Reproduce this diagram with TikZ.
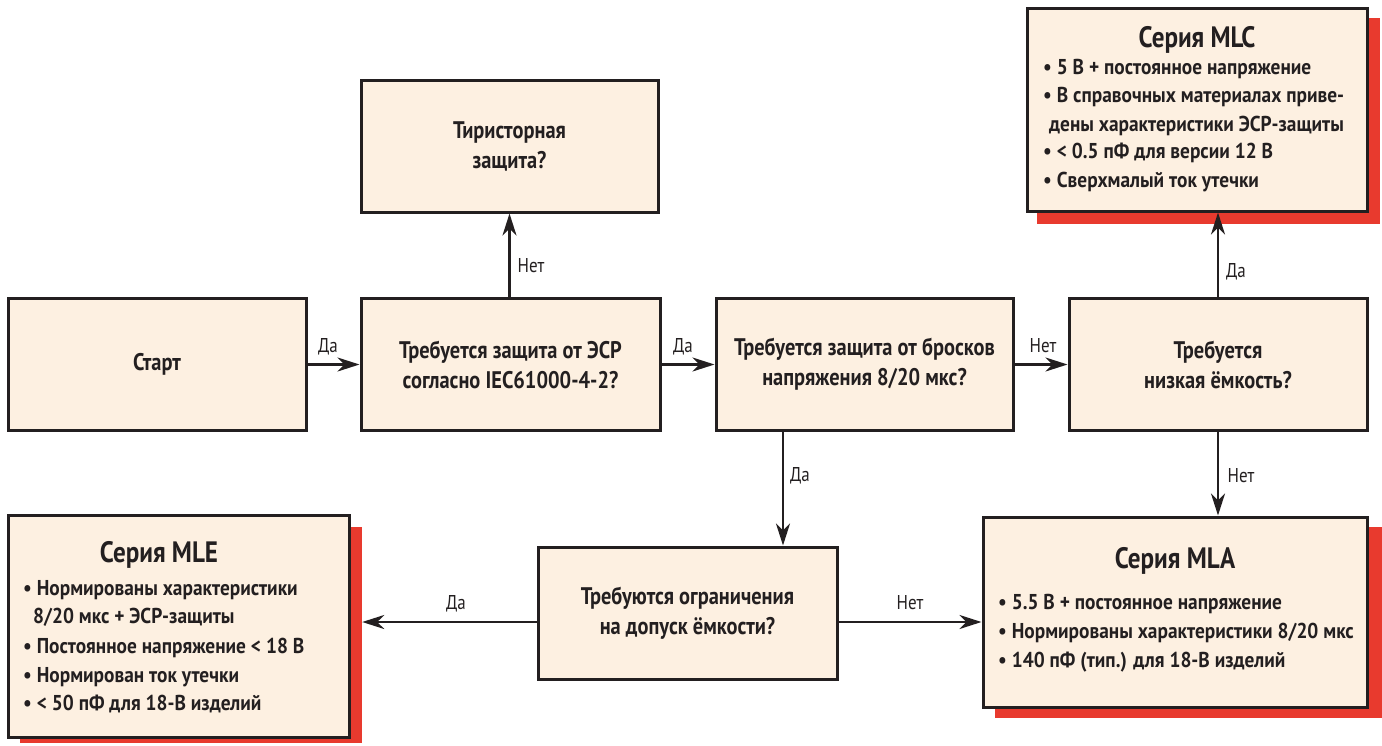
\documentclass[tikz,border=0pt]{standalone}
\usepackage{fontspec}
\setmainfont{PT Sans}[FakeStretch=0.85]
\newfontfamily\itmfont{PT Sans}[FakeStretch=0.9]
\usetikzlibrary{arrows.meta}
\definecolor{boxfill}{HTML}{FDF0E1}
\definecolor{boxline}{HTML}{231F20}
\definecolor{shadowred}{HTML}{E83A2E}
\tikzset{
  box/.style={draw=boxline, line width=3pt, fill=boxfill, align=center, inner sep=0pt, text=boxline,
    font=\bfseries\fontsize{24}{30}\selectfont},
  redbox/.style={fill=shadowred, draw=none, inner sep=0pt},
  arr/.style={draw=boxline, line width=2.5pt, -{Stealth[length=22pt,width=14pt,inset=7pt]}},
  lbl/.style={font=\fontsize{20}{24}\selectfont, text=boxline, inner sep=0pt},
  ttl/.style={font=\bfseries\fontsize{29.5}{30}\selectfont, text=boxline, anchor=base, inner sep=0pt},
  itm/.style={font=\itmfont\bfseries\fontsize{21.5}{24}\selectfont, text=boxline, anchor=base west, inner sep=0pt},
}
\begin{document}
\begin{tikzpicture}[x=1pt,y=-1pt]
\useasboundingbox (0,0) rectangle (1382,745);
% shadows
\node[redbox, minimum width=343pt, minimum height=206pt] (mlcshadow) at (1208.5,121) {};
\node[redbox, minimum width=342pt, minimum height=216pt] (mleshadow) at (191,635) {};
\node[redbox, minimum width=387pt, minimum height=191pt] (mlashadow) at (1188.5,622.5) {};
% boxes
\node[box, minimum width=298pt, minimum height=132pt] (start) at (157,364.5) {Старт};
\node[box, minimum width=299pt, minimum height=132pt] (esd) at (510.5,364.5) {Требуется защита от ЭСР\\согласно IEC61000-4-2?};
\node[box, minimum width=297pt, minimum height=132pt] (surge) at (864.5,364.5) {Требуется защита от бросков\\напряжения 8/20 мкс?};
\node[box, minimum width=298pt, minimum height=132pt] (lowcap) at (1218,364.5) {Требуется\\низкая ёмкость?};
\node[box, minimum width=297pt, minimum height=132pt] (thyr) at (509.5,146) {Тиристорная\\защита?};
\node[box, minimum width=299pt, minimum height=132pt] (tol) at (687.5,613) {Требуются ограничения\\на допуск ёмкости?};
\node[box, minimum width=340pt, minimum height=203pt] (mlc) at (1197,109.5) {};
\node[box, minimum width=341pt, minimum height=222pt] (mle) at (178.5,626) {};
\node[box, minimum width=384pt, minimum height=190pt] (mla) at (1175,612) {};
% MLC text
\node[ttl] (mlct) at (1197,47) {Серия MLC};
\node[itm] (mlc1) at (1043,74) {• 5 В + постоянное напряжение};
\node[itm] (mlc2) at (1043,102) {• В справочных материалах приве-};
\node[itm] (mlc3) at (1049,131) {дены характеристики ЭСР-защиты};
\node[itm] (mlc4) at (1043,158) {• < 0.5 пФ для версии 12 В};
\node[itm] (mlc5) at (1043,187) {• Сверхмалый ток утечки};
% MLE text
\node[ttl] (mlet) at (159,562) {Серия MLE};
\node[itm] (mle1) at (23,595) {• Нормированы характеристики};
\node[itm] (mle2) at (33,623) {8/20 мкс + ЭСР-защиты};
\node[itm] (mle3) at (23,653) {• Постоянное напряжение < 18 В};
\node[itm] (mle4) at (23,682) {• Нормирован ток утечки};
\node[itm] (mle5) at (23,710) {• < 50 пФ для 18-В изделий};
% MLA text
\node[ttl] (mlat) at (1175,568) {Серия MLA};
\node[itm] (mla1) at (998,609) {• 5.5 В + постоянное напряжение};
\node[itm] (mla2) at (998,638) {• Нормированы характеристики 8/20 мкс};
\node[itm] (mla3) at (998,667) {• 140 пФ (тип.) для 18-В изделий};
% connectors
\coordinate (vx) at (783,0);
\coordinate (hy) at (0,622);
\draw[arr] (start.east) -- (esd.west);
\draw[arr] (esd.east) -- (surge.west);
\draw[arr] (surge.east) -- (lowcap.west);
\draw[arr] (esd.north -| thyr.south) -- (thyr.south);
\draw[arr] (lowcap.north) -- (lowcap.north |- mlc.south);
\draw[arr] (lowcap.south) -- (lowcap.south |- mla.north);
\draw[arr] (surge.south -| vx) -- (tol.north -| vx);
\draw[arr] (tol.west |- hy) -- (mleshadow.east |- hy);
\draw[arr] (tol.east |- hy) -- (mla.west |- hy);
% labels
\node[lbl] (l1) at (328,347) {Да};
\node[lbl] (l2) at (683,347) {Да};
\node[lbl] (l3) at (1043,346) {Нет};
\node[lbl] (l4) at (531,266) {Нет};
\node[lbl] (l5) at (1236,272) {Да};
\node[lbl] (l6) at (1241,476) {Нет};
\node[lbl] (l7) at (800,476) {Да};
\node[lbl] (l8) at (456,604) {Да};
\node[lbl] (l9) at (910,603) {Нет};
\end{tikzpicture}
\end{document}
